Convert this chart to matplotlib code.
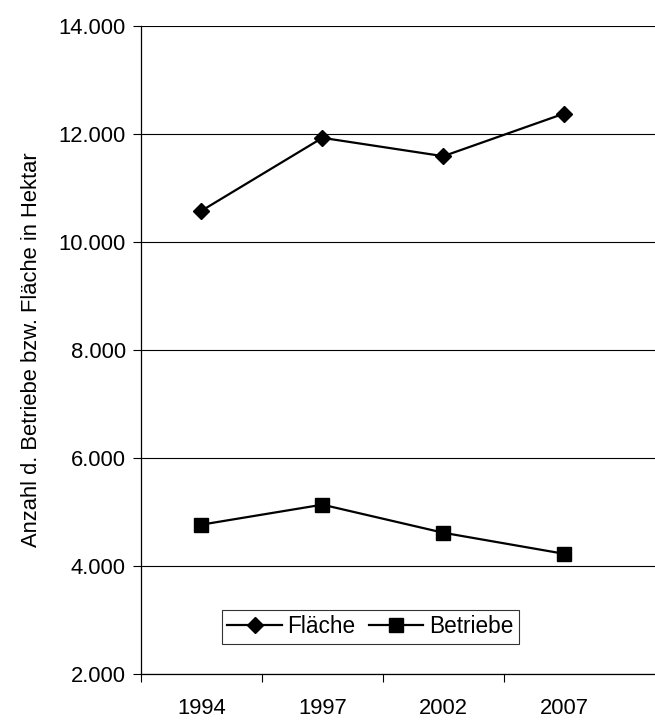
import matplotlib
matplotlib.use('Agg')
import matplotlib.pyplot as plt
from matplotlib.ticker import FixedLocator

# values
years = ['1994', '1997', '2002', '2007']
flaeche = [10580, 11930, 11590, 12380]
betriebe = [4770, 5140, 4620, 4230]
y_ticks = [2000, 4000, 6000, 8000, 10000, 12000, 14000]
y_tick_labels = ['2.000', '4.000', '6.000', '8.000', '10.000', '12.000', '14.000']

plt.rcParams['font.family'] = ['Liberation Sans', 'DejaVu Sans']

fig = plt.figure(figsize=(6.55, 7.2), dpi=100)
ax = fig.add_axes([141 / 655, 1 - 674.3 / 720, 514 / 655, 648.3 / 720])

x = list(range(len(years)))
ax.plot(x, flaeche, color='black', lw=1.6, marker='D', markersize=8.5, label='Fläche')
ax.plot(x, betriebe, color='black', lw=1.6, marker='s', markersize=10, label='Betriebe')

ax.set_xlim(-0.5, 3.75)
ax.set_ylim(2000, 14000)

ax.set_yticks(y_ticks)
ax.set_yticklabels(y_tick_labels, fontsize=15.8)
ax.yaxis.grid(True, color='black', lw=0.8)
ax.set_axisbelow(True)

ax.set_xticks(x)
ax.set_xticklabels(years, fontsize=15.8)
ax.tick_params(axis='x', which='major', length=0, pad=17)
ax.xaxis.set_minor_locator(FixedLocator([-0.5, 0.5, 1.5, 2.5]))
ax.tick_params(axis='x', which='minor', length=6, width=0.8, direction='out')
ax.tick_params(axis='y', length=6, width=0.8, direction='out', pad=5)

for s in ['top', 'right']:
    ax.spines[s].set_visible(False)
ax.spines['left'].set_linewidth(0.9)
ax.spines['bottom'].set_linewidth(0.9)

ax.set_ylabel('Anzahl d. Betriebe bzw. Fläche in Hektar', fontsize=15.8, labelpad=12)

leg = ax.legend(ncol=2, loc='lower left', bbox_to_anchor=(0.157, 0.0468),
                fontsize=16.3, frameon=True, fancybox=False,
                handlelength=2.4, handletextpad=0.25, columnspacing=0.6,
                borderpad=0.25, borderaxespad=0)
leg.get_frame().set_edgecolor('black')
leg.get_frame().set_linewidth(0.8)

fig.savefig('out.png', dpi=100)
